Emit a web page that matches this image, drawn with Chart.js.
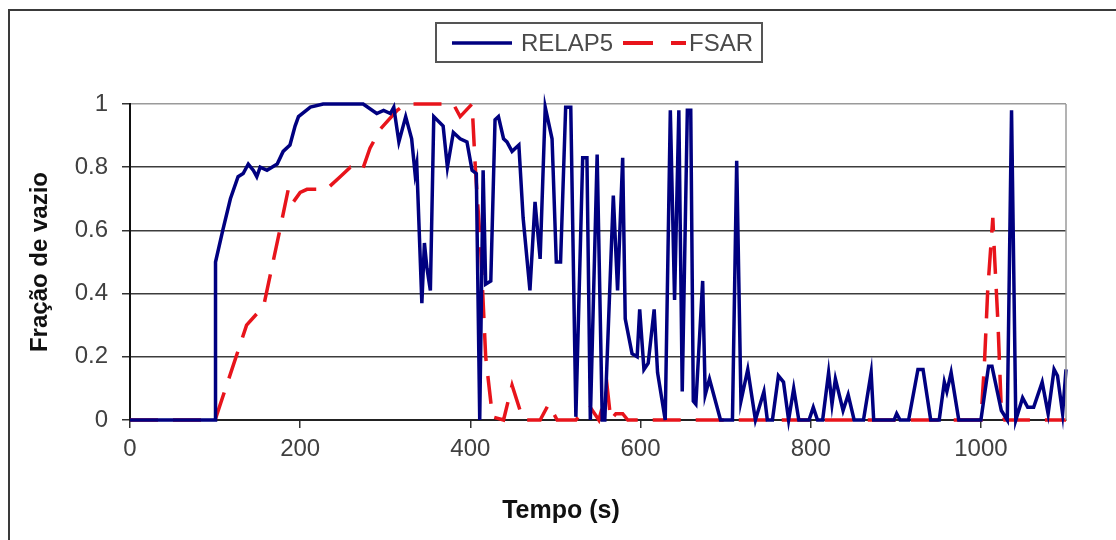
<!DOCTYPE html>
<html>
<head>
<meta charset="utf-8">
<script src="https://cdn.jsdelivr.net/npm/chart.js@4"></script>
<style>
  body { margin: 0; background: #fff; }
  #wrap { width: 1116px; height: 540px; }
</style>
</head>
<body>
<div id="wrap"><canvas id="voidChart" width="1116" height="540"></canvas></div>
<script>
// Data
const relapTime = [0, 100, 100.5, 109, 118, 127, 133, 139, 145, 149, 153, 161, 173, 180, 188, 194, 198, 212, 227, 274,
  290, 298, 306, 310, 316, 324, 331, 335, 337, 343, 346, 349, 353, 357, 368, 373, 380, 388, 396, 402,
  407, 411, 415, 418, 424, 429, 433, 439, 443, 449, 457, 462, 470, 476, 482, 488, 496, 501, 506, 512,
  518, 524, 532, 537, 541, 549, 555, 558, 568, 573, 579, 582, 590, 596, 599, 604, 609, 616, 620, 629,
  635, 640, 645, 649, 655, 659, 662, 665, 673, 676, 681, 694, 708, 713, 718, 726, 735, 745, 749, 755,
  762, 768, 774, 780, 786, 798, 803, 808, 814, 821, 825, 829, 838, 844, 851, 862, 871, 874, 898, 901,
  905, 915, 926, 932, 941, 951, 957, 960, 965, 974, 1000, 1009, 1013, 1024, 1031, 1036, 1041, 1049, 1055, 1062,
  1072, 1079, 1086, 1090, 1096, 1100];
const relapVoid = [0, 0, 0.50, 0.60, 0.70, 0.77, 0.78, 0.81, 0.79, 0.77, 0.80, 0.79, 0.81, 0.85, 0.87, 0.93, 0.96, 0.99, 1.0, 1.0,
  0.97, 0.98, 0.97, 0.99, 0.88, 0.96, 0.89, 0.78, 0.81, 0.37, 0.56, 0.48, 0.41, 0.96, 0.93, 0.80, 0.91, 0.89, 0.88, 0.79,
  0.78, 0, 0.79, 0.43, 0.44, 0.95, 0.96, 0.89, 0.88, 0.85, 0.87, 0.64, 0.41, 0.69, 0.51, 0.99, 0.89, 0.50, 0.50, 0.99,
  0.99, 0.01, 0.83, 0.83, 0, 0.84, 0, 0, 0.71, 0.41, 0.83, 0.32, 0.21, 0.20, 0.35, 0.16, 0.18, 0.35, 0.15, 0,
  0.98, 0.38, 0.98, 0.09, 0.98, 0.98, 0.06, 0.05, 0.44, 0.08, 0.13, 0, 0, 0.82, 0.06, 0.16, 0, 0.09, 0, 0,
  0.14, 0.12, 0, 0.10, 0, 0, 0.04, 0, 0, 0.15, 0.05, 0.13, 0.03, 0.08, 0, 0, 0.15, 0, 0, 0.02,
  0, 0, 0.16, 0.16, 0, 0, 0.12, 0.09, 0.15, 0, 0, 0.17, 0.17, 0.03, 0, 0.98, 0, 0.07, 0.04, 0.04,
  0.12, 0.02, 0.16, 0.14, 0.02, 0.16];

const fsarTime = [0, 100, 137, 157, 176, 186, 192, 200, 208, 231, 247, 259, 273, 282, 294, 314, 324, 380, 388, 402,
  406, 412, 418, 426, 439, 449, 462, 482, 492, 502, 524, 533, 541, 551, 561, 565, 571, 579, 585, 1000,
  1004, 1008, 1014, 1016, 1020, 1024, 1028, 1100];
const fsarVoid = [0, 0, 0.30, 0.36, 0.60, 0.73, 0.69, 0.72, 0.73, 0.73, 0.77, 0.80, 0.79, 0.86, 0.92, 0.98, 1.0, 1.0, 0.96, 1.0,
  0.79, 0.55, 0.20, 0.01, 0, 0.11, 0, 0, 0.05, 0, 0, 0.03, 0.04, 0, 0.10, 0, 0.02, 0.02, 0, 0,
  0.17, 0.41, 0.64, 0.52, 0.31, 0.03, 0, 0];

const seriesNames = ['RELAP5', 'FSAR'];
const xTicks = [0, 200, 400, 600, 800, 1000];
const yTicks = [0, 0.2, 0.4, 0.6, 0.8, 1];
const xTitle = 'Tempo (s)';
const yTitle = 'Fração de vazio';

const BLUE = '#000080';
const RED = '#e8141b';
const FONT = "'Liberation Sans', Arial, sans-serif";

function toPoints(xs, ys) {
    return xs.map((x, i) => ({ x: x, y: ys[i] }));
}

// frame, plot border, x title and legend box
const decorPlugin = {
    id: 'decor',
    afterDraw(chart) {
        const c = chart.ctx;
        const a = chart.chartArea;
        c.save();
        // outer frame (only left/top visible in the picture)
        c.strokeStyle = '#3a3a3a';
        c.lineWidth = 2;
        c.beginPath();
        c.moveTo(9, 600);
        c.lineTo(9, 10);
        c.lineTo(1200, 10);
        c.stroke();
        // plot area right edge
        c.strokeStyle = '#9a9a9a';
        c.lineWidth = 1.5;
        c.beginPath();
        c.moveTo(a.right, a.top);
        c.lineTo(a.right, a.bottom);
        c.stroke();

        // x axis title, centred on the whole picture like the original
        c.fillStyle = '#111';
        c.font = 'bold 25px ' + FONT;
        c.textAlign = 'center';
        c.textBaseline = 'middle';
        c.fillText(xTitle, 561, 511);

        // legend
        const ly = 43;
        c.strokeStyle = '#555';
        c.lineWidth = 2;
        c.strokeRect(436, 23, 326, 39);
        c.lineWidth = 3.5;
        c.strokeStyle = BLUE;
        c.beginPath();
        c.moveTo(452, ly);
        c.lineTo(512, ly);
        c.stroke();
        c.strokeStyle = RED;
        c.lineWidth = 4;
        c.setLineDash([30, 18]);
        c.beginPath();
        c.moveTo(623, ly);
        c.lineTo(686, ly);
        c.stroke();
        c.setLineDash([]);
        c.fillStyle = '#4a4a4a';
        c.font = '24px ' + FONT;
        c.textAlign = 'left';
        c.fillText(seriesNames[0], 521, ly + 1);
        c.fillText(seriesNames[1], 689, ly + 1);
        c.restore();
    }
};

const ctx = document.getElementById('voidChart').getContext('2d');
const voidChart = new Chart(ctx, {
    type: 'line',
    data: {
        datasets: [{
            label: seriesNames[0],
            data: toPoints(relapTime, relapVoid),
            borderColor: BLUE,
            borderWidth: 3.5,
            pointRadius: 0,
            tension: 0,
            clip: false
        }, {
            label: seriesNames[1],
            data: toPoints(fsarTime, fsarVoid),
            borderColor: RED,
            borderWidth: 3.5,
            borderDash: [28, 15],
            pointRadius: 0,
            tension: 0,
            clip: false
        }]
    },
    options: {
        responsive: false,
        animation: false,
        layout: { padding: { left: 10, top: 104, right: 50, bottom: 0 } },
        plugins: {
            legend: { display: false },
            tooltip: { enabled: false }
        },
        scales: {
            x: {
                type: 'linear',
                min: 0,
                max: 1100,
                afterBuildTicks: scale => { scale.ticks = xTicks.map(v => ({ value: v })); },
                afterFit: scale => { scale.height = 120; },
                ticks: {
                    font: { family: FONT, size: 24 },
                    color: '#404040',
                    padding: 7,
                    maxRotation: 0,
                    callback: v => String(v)
                },
                grid: {
                    drawOnChartArea: false,
                    drawTicks: true,
                    tickLength: 8,
                    tickColor: '#333',
                    lineWidth: 1.5
                },
                border: { display: true, color: '#222', width: 2 }
            },
            y: {
                min: 0,
                max: 1,
                afterBuildTicks: scale => { scale.ticks = yTicks.map(v => ({ value: v })); },
                afterFit: scale => { scale.width = 120; },
                ticks: {
                    font: { family: FONT, size: 24 },
                    color: '#404040',
                    padding: 14,
                    callback: v => String(Math.round(v * 10) / 10)
                },
                grid: {
                    color: c => (c.tick && c.tick.value === 1) ? '#9a9a9a' : '#3c3c3c',
                    lineWidth: 1.5,
                    drawTicks: true,
                    tickLength: 8,
                    tickColor: '#333'
                },
                border: { display: true, color: '#111', width: 2 },
                title: {
                    display: true,
                    text: yTitle,
                    font: { family: FONT, size: 24, weight: 'bold' },
                    color: '#111',
                    padding: { top: 16, bottom: 0 }
                }
            }
        }
    },
    plugins: [decorPlugin]
});
</script>
</body>
</html>
